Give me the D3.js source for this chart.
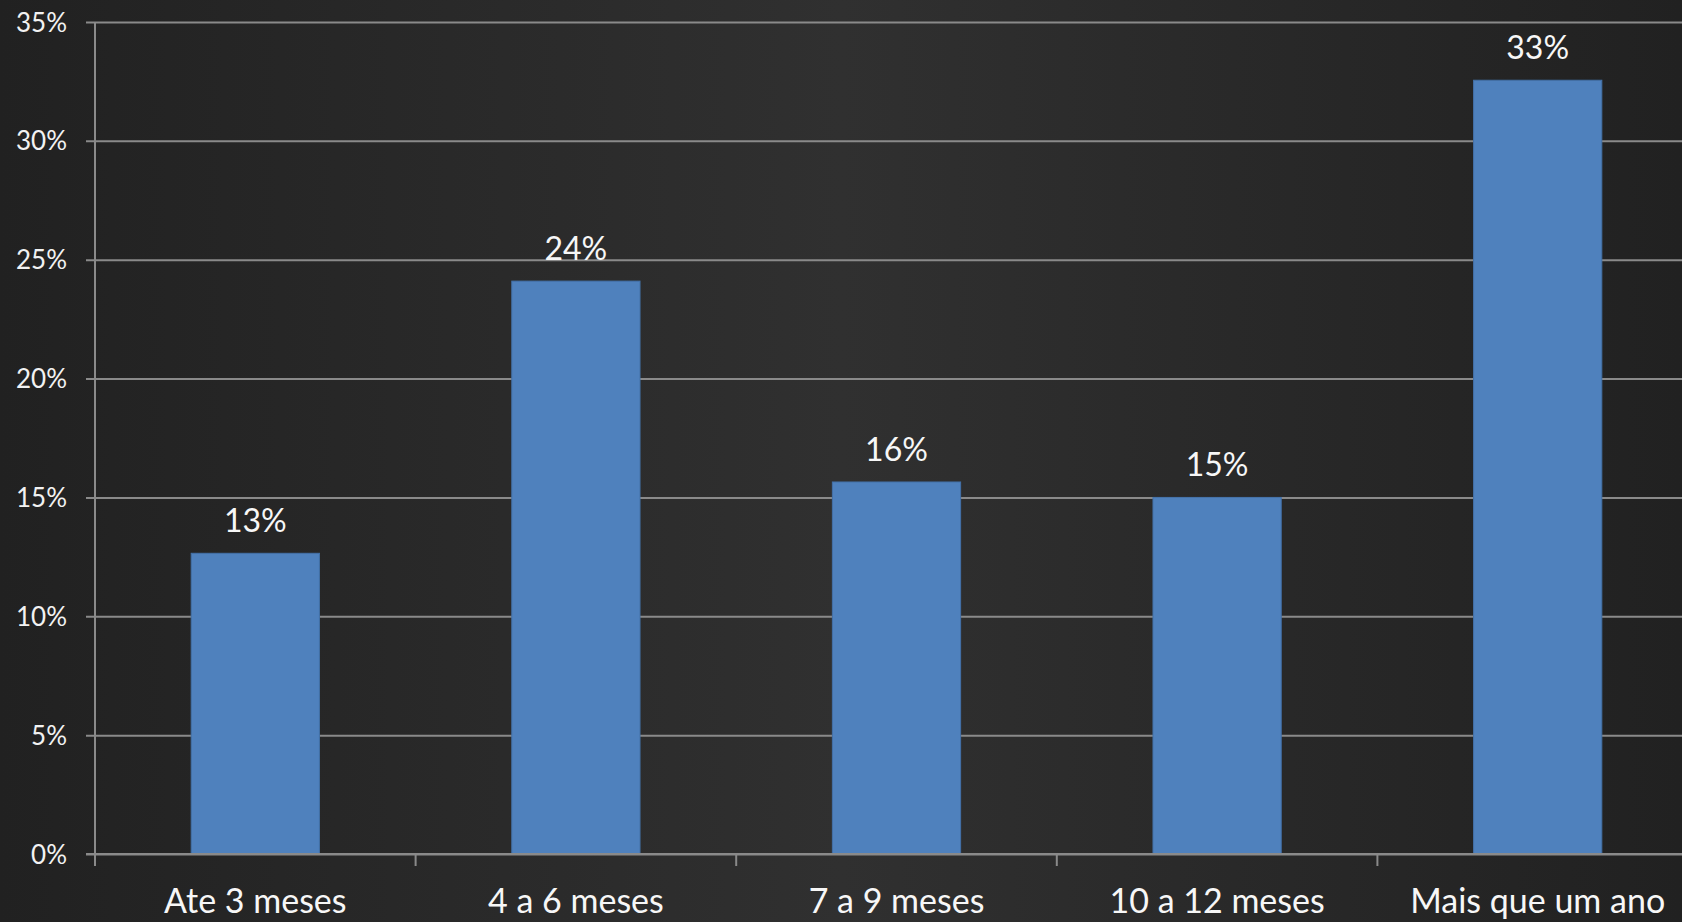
<!DOCTYPE html>
<html><head><meta charset="utf-8">
<script src="https://cdn.jsdelivr.net/npm/d3@7"></script>
<style>html,body{margin:0;padding:0;background:#262626;overflow:hidden;}</style>
</head><body>
<svg id="c" width="1682" height="922"></svg>
<script>
const categories = ["Ate 3 meses","4 a 6 meses","7 a 9 meses","10 a 12 meses","Mais que um ano"];
const values = [12.65, 24.1, 15.65, 15.0, 32.55];
const valueLabels = ["13%","24%","16%","15%","33%"];
const yTicks = [0,5,10,15,20,25,30,35];

(function(){
const W = 1682, H = 922;
const svg = d3.select("#c");
const defs = svg.append("defs");
const g = defs.append("linearGradient").attr("id","bg").attr("x1","0").attr("x2","1").attr("y1","0").attr("y2","0");
g.append("stop").attr("offset","0").attr("stop-color","#212121");
g.append("stop").attr("offset","0.5").attr("stop-color","#303030");
g.append("stop").attr("offset","1").attr("stop-color","#212121");
svg.append("rect").attr("width",W).attr("height",H).attr("fill","url(#bg)");

const mLeft = 95, mTop = 22, mBottom = 854, step = 320.6;
const x = d3.scaleBand().domain(categories).range([mLeft, mLeft + step*categories.length]).paddingInner(0.6).paddingOuter(0.3);
const y = d3.scaleLinear().domain([0,35]).range([mBottom, mTop]);
const font = "Lato, 'Open Sans', sans-serif";
const gridCol = "#8a8a8a";

const yAxis = d3.axisLeft(y).tickValues(yTicks).tickFormat(d => d + "%").tickSize(-(W - mLeft + 10)).tickPadding(28);
const ya = svg.append("g").attr("transform", `translate(${mLeft},0)`).call(yAxis);
ya.select(".domain").remove();
ya.selectAll(".tick line").attr("stroke", gridCol).attr("stroke-width",2).attr("x1",-9).attr("x2", W - mLeft);
ya.selectAll(".tick text").attr("fill","#f2f2f2").attr("font-family",font).attr("font-size",26).attr("dy","0.35em");

svg.append("line").attr("x1",mLeft).attr("x2",mLeft).attr("y1",mTop).attr("y2",mBottom+12).attr("stroke",gridCol).attr("stroke-width",2);

svg.append("g").selectAll("rect").data(values).join("rect")
  .attr("x",(d,i)=>x(categories[i])).attr("width",x.bandwidth())
  .attr("y",d=>y(d)).attr("height",d=>mBottom - y(d))
  .attr("fill","#4f81bd").attr("stroke","#4371a8").attr("stroke-width",1);

svg.append("line").attr("x1",mLeft-9).attr("x2",W).attr("y1",mBottom).attr("y2",mBottom).attr("stroke",gridCol).attr("stroke-width",2);

const st = x.step();
svg.append("g").selectAll("line").data(categories).join("line")
  .attr("x1",(d)=>x(d) - st*0.3).attr("x2",(d)=>x(d) - st*0.3)
  .attr("y1",mBottom).attr("y2",mBottom+12).attr("stroke",gridCol).attr("stroke-width",2);

const xAxis = d3.axisBottom(x).tickSize(0).tickPadding(0);
const xa = svg.append("g").attr("transform",`translate(0,${mBottom})`).call(xAxis);
xa.select(".domain").remove();
xa.selectAll(".tick text").attr("fill","#f7f7f7").attr("font-family",font).attr("font-size",34).attr("y",59).attr("dy",0);

svg.append("g").selectAll("text").data(values).join("text")
  .attr("x",(d,i)=>x(categories[i]) + x.bandwidth()/2)
  .attr("y",d=>y(d) - 21)
  .attr("text-anchor","middle").attr("fill","#f7f7f7").attr("font-family",font).attr("font-size",32)
  .text((d,i)=>valueLabels[i]);
})();
</script>
</body></html>
